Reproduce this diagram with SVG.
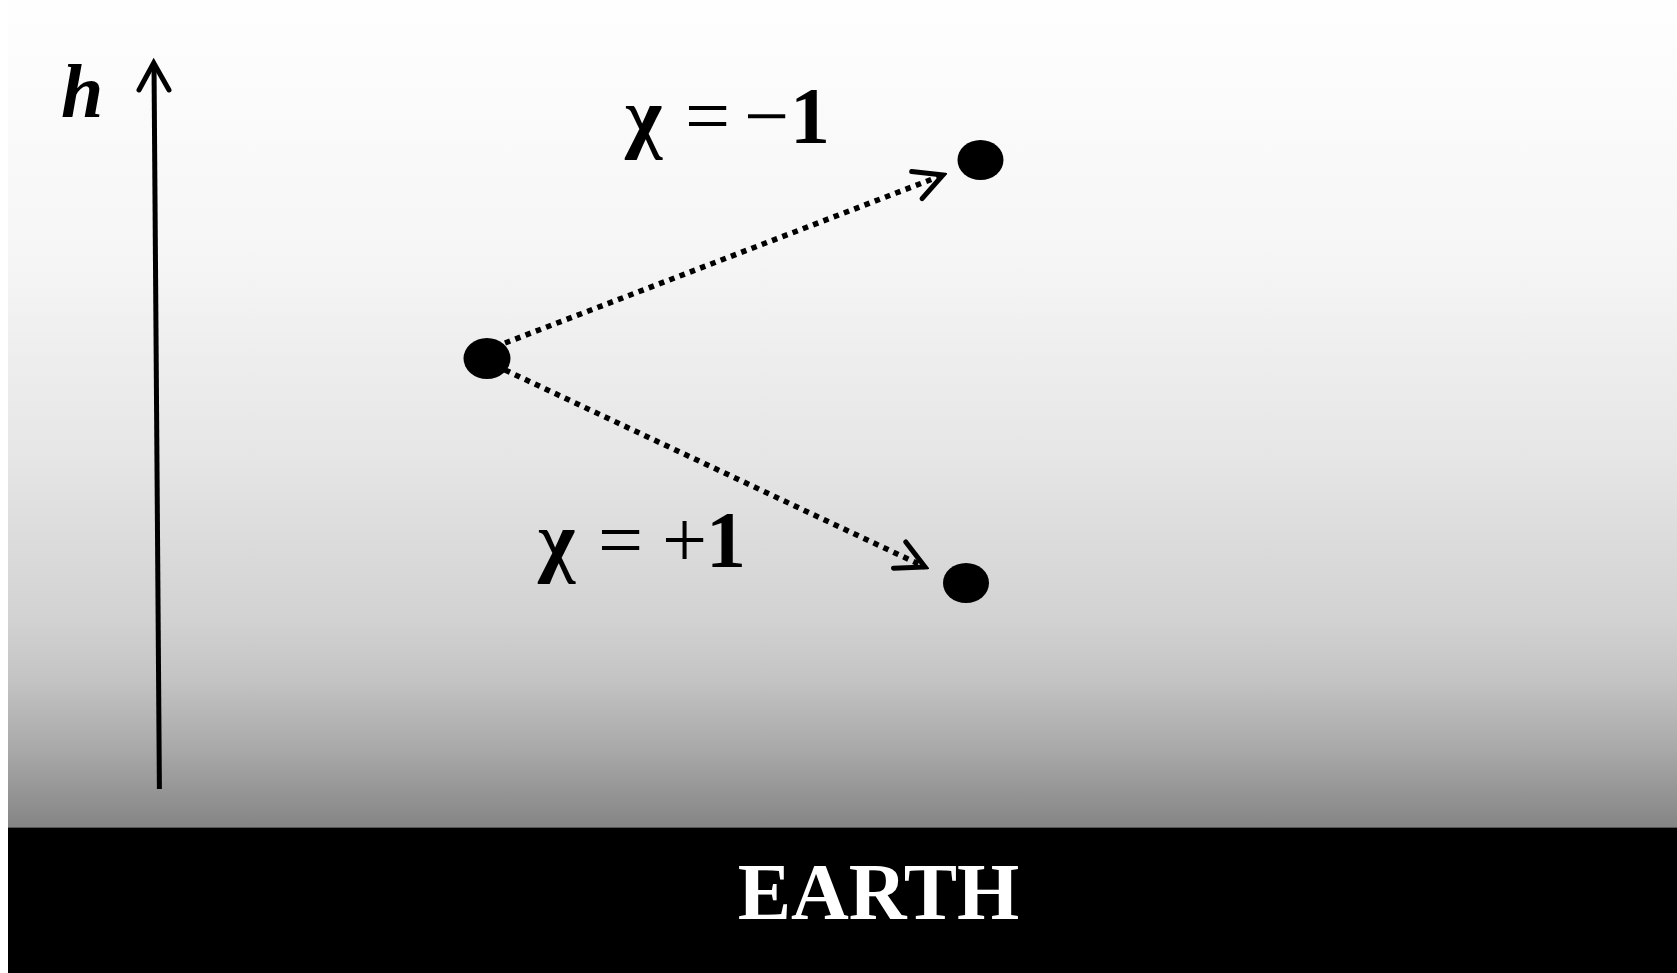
<svg xmlns="http://www.w3.org/2000/svg" width="1677" height="973" viewBox="0 0 1677 973">
  <defs>
    <linearGradient id="sky" x1="0" y1="0" x2="0" y2="1">
      <stop offset="0" stop-color="#fefefe"/>
      <stop offset="0.3" stop-color="#f6f6f6"/>
      <stop offset="0.55" stop-color="#e6e6e6"/>
      <stop offset="0.75" stop-color="#d2d2d2"/>
      <stop offset="0.82" stop-color="#c4c4c4"/>
      <stop offset="0.9" stop-color="#ababab"/>
      <stop offset="1" stop-color="#858585"/>
    </linearGradient>
    <marker id="open" viewBox="-34 -18 38 36" refX="0" refY="0" markerWidth="38" markerHeight="36" markerUnits="userSpaceOnUse" orient="auto">
      <path d="M-28,-14.5 L0,0 L-28,14.5" fill="none" stroke="#000" stroke-width="5" stroke-linecap="round" stroke-linejoin="miter"/>
    </marker>
  </defs>
  <style>
    .dot { fill: #000; }
    .conn { fill: none; stroke: #000; stroke-width: 5.5; stroke-dasharray: 5.5 5.5; }
    .lbl { font-family: "Liberation Serif", "Times New Roman", serif; font-weight: bold; font-size: 80px; fill: #000; }
    .op { font-weight: normal; }
  </style>
  <rect x="0" y="0" width="1677" height="973" fill="#ffffff"/>
  <rect x="8" y="0" width="1669" height="827" fill="url(#sky)"/>
  <g id="earth">
    <rect x="8" y="827" width="1669" height="146" fill="#000"/>
    <line x1="8" y1="827.5" x2="1677" y2="827.5" stroke="#555" stroke-width="1"/>
    <text x="878.5" y="919" text-anchor="middle" class="lbl" style="fill:#fff">EARTH</text>
  </g>
  <g id="h-axis">
    <line x1="159.4" y1="789" x2="154" y2="64" stroke="#000" stroke-width="5"/>
    <path d="M139,90 L153.7,63 L169,90" fill="none" stroke="#000" stroke-width="5" stroke-linecap="round"/>
    <text x="61" y="117" class="lbl" style="font-style:italic;font-size:76px">h</text>
  </g>
  <g id="connectors">
    <line class="conn" x1="505" y1="343" x2="943" y2="175" marker-end="url(#open)"/>
    <line class="conn" x1="505" y1="370" x2="925" y2="567" marker-end="url(#open)"/>
  </g>
  <g id="node-start">
    <ellipse class="dot" cx="487" cy="358.5" rx="23.5" ry="20.5"/>
  </g>
  <g id="node-up">
    <ellipse class="dot" cx="980.5" cy="160" rx="23" ry="20"/>
  </g>
  <g id="node-down">
    <ellipse class="dot" cx="966" cy="583" rx="23" ry="20"/>
  </g>
  <g id="label-minus">
    <text class="lbl" y="143"><tspan x="625">χ</tspan><tspan class="op" x="685">=</tspan><tspan class="op" x="744">−</tspan><tspan x="790">1</tspan></text>
  </g>
  <g id="label-plus">
    <text class="lbl" y="567"><tspan x="538">χ</tspan><tspan class="op" x="598">=</tspan><tspan class="op" x="662">+</tspan><tspan x="706">1</tspan></text>
  </g>
</svg>
